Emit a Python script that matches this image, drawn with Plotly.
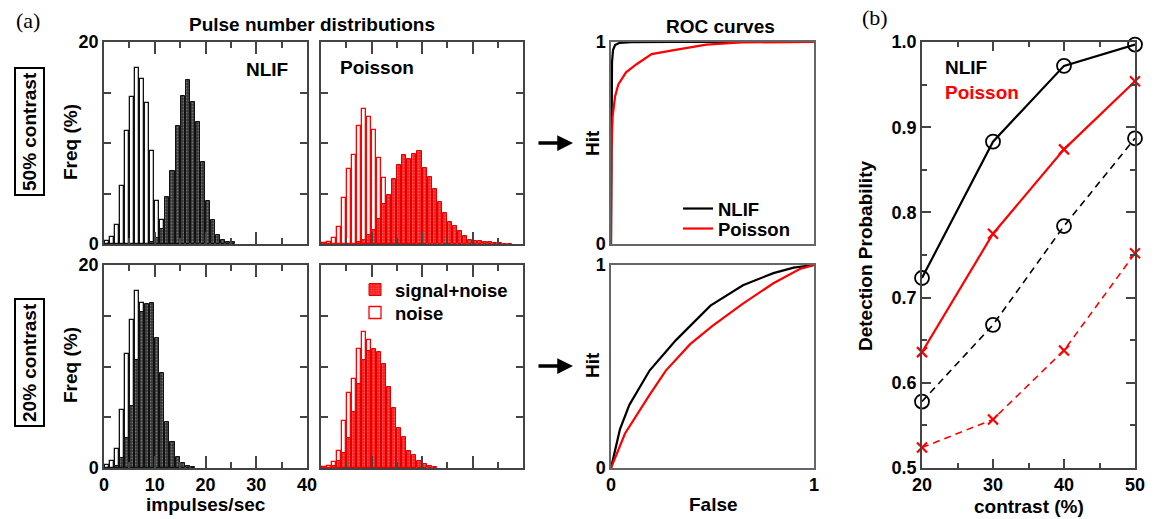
import plotly.graph_objects as go

W, H = 1157, 519
FONT = "Liberation Sans, Arial, Helvetica, sans-serif"
FS = 19

# ---------------- data: pulse-number histograms (percent per 1 imp/s bin) -------------
# bins are 1 impulse/sec wide; *_bins gives the lower edge of each bin
nlif_noise_bins = list(range(0, 15))
nlif_noise = [0.3, 0.65, 1.9, 5.7, 11.2, 14.6, 17.4, 16.3, 14.0, 9.2, 4.3, 2.4, 0.7, 0.3, 0.1]

nlif_sig50_bins = list(range(9, 26))
nlif_sig50 = [0.2, 0.6, 1.5, 4.7, 7.2, 11.7, 14.7, 16.2, 14.1, 12.1, 8.1, 4.3, 2.4, 0.9, 0.35, 0.2, 0.15]

nlif_sig20_bins = list(range(2, 18))
nlif_sig20 = [0.2, 1.0, 3.0, 6.1, 10.6, 15.4, 16.2, 16.3, 12.8, 9.4, 4.5, 2.6, 1.1, 0.45, 0.15, 0.1]

pois_noise_bins = list(range(0, 19))
pois_noise = [0.1, 0.2, 0.6, 1.7, 4.6, 7.4, 8.8, 11.7, 13.4, 12.6, 11.3, 8.5, 6.5, 4.0, 2.5, 1.5, 0.8, 0.4, 0.2]

pois_sig50_bins = list(range(7, 38))
pois_sig50 = [0.2, 0.4, 0.9, 1.4, 2.5, 4.0, 4.9, 6.4, 7.8, 8.8, 8.4, 8.9, 9.2, 7.5, 6.6, 5.4,
              4.2, 3.1, 2.2, 1.8, 1.3, 0.8, 0.4, 0.3, 0.25, 0.2, 0.15, 0.1, 0.1, 0.05, 0.05]

pois_sig20_bins = list(range(2, 23))
pois_sig20 = [0.2, 0.7, 1.5, 3.0, 5.5, 8.3, 10.6, 11.5, 11.7, 11.4, 10.2, 8.0, 5.9, 3.9,
              3.1, 1.7, 1.3, 0.7, 0.4, 0.2, 0.1]

# ---------------- data: ROC curves ----------------
roc50_nlif_false = [0, 0.003, 0.005, 0.01, 0.02, 0.04, 0.1, 0.3, 1.0]
roc50_nlif_hit = [0, 0.5, 0.9, 0.96, 0.985, 0.995, 0.999, 1.0, 1.0]
roc50_pois_false = [0, 0.002, 0.008, 0.02, 0.036, 0.074, 0.126, 0.2, 0.31, 0.47, 0.64, 1.0]
roc50_pois_hit = [0, 0.465, 0.63, 0.73, 0.79, 0.85, 0.89, 0.94, 0.96, 0.987, 0.998, 1.0]

roc20_nlif_false = [0, 0.044, 0.09, 0.19, 0.32, 0.49, 0.65, 0.80, 0.90, 1.0]
roc20_nlif_hit = [0, 0.19, 0.31, 0.48, 0.63, 0.80, 0.90, 0.96, 0.987, 1.0]
roc20_pois_false = [0, 0.069, 0.19, 0.27, 0.39, 0.50, 0.65, 0.80, 0.93, 1.0]
roc20_pois_hit = [0, 0.17, 0.36, 0.48, 0.61, 0.70, 0.81, 0.91, 0.98, 1.0]

# ---------------- data: detection probability vs contrast ----------------
contrast = [20, 30, 40, 50]
det_nlif_solid = [0.723, 0.883, 0.972, 0.997]
det_pois_solid = [0.636, 0.775, 0.874, 0.954]
det_nlif_dash = [0.578, 0.668, 0.784, 0.887]
det_pois_dash = [0.524, 0.557, 0.638, 0.752]


def px(x):
    return x / W


def py(y):
    return 1 - y / H


def centers(bins):
    return [b + 0.5 for b in bins]


fig = go.Figure()

BLACK_SIG = dict(color="#333333", line=dict(color="#111111", width=1),
                 pattern=dict(shape=".", fgcolor="#b0b0b0", bgcolor="#333333", size=3, solidity=0.3))
RED_SIG = dict(color="#ff1a1a", line=dict(color="#e00000", width=1),
               pattern=dict(shape=".", fgcolor="#ff9a9a", bgcolor="#ff1a1a", size=3, solidity=0.3))
BLACK_NOISE = dict(color="white", line=dict(color="#111111", width=1.3))
RED_NOISE = dict(color="white", line=dict(color="#ff0000", width=1.3))

panels = [
    ("x", "y", nlif_noise_bins, nlif_noise, nlif_sig50_bins, nlif_sig50, BLACK_NOISE, BLACK_SIG, False),
    ("x2", "y2", pois_noise_bins, pois_noise, pois_sig50_bins, pois_sig50, RED_NOISE, RED_SIG, False),
    ("x3", "y3", nlif_noise_bins, nlif_noise, nlif_sig20_bins, nlif_sig20, BLACK_NOISE, BLACK_SIG, False),
    ("x4", "y4", pois_noise_bins, pois_noise, pois_sig20_bins, pois_sig20, RED_NOISE, RED_SIG, True),
]
for xa, ya, nb, nv, sb, sv, nm, sm, leg in panels:
    fig.add_trace(go.Bar(x=centers(nb), y=nv, width=0.8, marker=nm, xaxis=xa, yaxis=ya,
                         name="noise", showlegend=leg, legend="legend4"))
    fig.add_trace(go.Bar(x=centers(sb), y=sv, width=0.8, marker=sm, xaxis=xa, yaxis=ya,
                         name="signal+noise", showlegend=leg, legend="legend"))

# ROC curves
for xa, ya, nf, nh, pf, ph, leg in [
    ("x5", "y5", roc50_nlif_false, roc50_nlif_hit, roc50_pois_false, roc50_pois_hit, True),
    ("x6", "y6", roc20_nlif_false, roc20_nlif_hit, roc20_pois_false, roc20_pois_hit, False),
]:
    fig.add_trace(go.Scatter(x=nf, y=nh, mode="lines", line=dict(color="black", width=2.2),
                             xaxis=xa, yaxis=ya, name="NLIF", showlegend=leg, legend="legend2",
                             cliponaxis=False))
    fig.add_trace(go.Scatter(x=pf, y=ph, mode="lines", line=dict(color="#ff0000", width=2.2),
                             xaxis=xa, yaxis=ya, name="Poisson", showlegend=leg, legend="legend3",
                             cliponaxis=False))

# detection probability
circ = dict(symbol="circle-open", size=14, color="black", line=dict(width=1.8, color="black"))
xm = dict(symbol="x-thin", size=10, color="#ff0000", line=dict(width=2.2, color="#ff0000"))
fig.add_trace(go.Scatter(x=contrast, y=det_nlif_solid, mode="lines+markers", marker=circ,
                         line=dict(color="black", width=2.2), xaxis="x7", yaxis="y7",
                         showlegend=False, cliponaxis=False))
fig.add_trace(go.Scatter(x=contrast, y=det_pois_solid, mode="lines+markers", marker=xm,
                         line=dict(color="#ff0000", width=2.2), xaxis="x7", yaxis="y7",
                         showlegend=False, cliponaxis=False))
fig.add_trace(go.Scatter(x=contrast, y=det_nlif_dash, mode="lines+markers", marker=circ,
                         line=dict(color="black", width=1.6, dash="7px,5px"), xaxis="x7", yaxis="y7",
                         showlegend=False, cliponaxis=False))
fig.add_trace(go.Scatter(x=contrast, y=det_pois_dash, mode="lines+markers", marker=xm,
                         line=dict(color="#ff0000", width=1.6, dash="7px,5px"), xaxis="x7", yaxis="y7",
                         showlegend=False, cliponaxis=False))

tickfont = dict(family=FONT, size=18, color="black", weight="bold")
FRAME = "#444444"

cols = {"L": (104, 307), "M": (321, 523), "R": (611, 814), "B": (922, 1135)}
rows = {"T": (42, 244), "D": (265, 468), "ALL": (42, 468)}


def dom_x(c):
    a, b = cols[c]
    return [px(a), px(b)]


def dom_y(r):
    a, b = rows[r]
    return [py(b), py(a)]


def hist_x(c, anchor, labels):
    return dict(domain=dom_x(c), anchor=anchor, range=[0, 40], showgrid=False, zeroline=False,
                showline=True, linecolor=FRAME, linewidth=1.5, mirror="ticks", ticks="inside",
                tickmode="linear", tick0=0, dtick=10, ticklen=12, tickwidth=1.5, tickcolor=FRAME,
                minor=dict(ticks="inside", dtick=5, tick0=0, ticklen=6, tickwidth=1.5, tickcolor=FRAME),
                showticklabels=labels, tickfont=tickfont, automargin=False)


def hist_y(r, anchor, labels):
    return dict(domain=dom_y(r), anchor=anchor, range=[0, 20], showgrid=False, zeroline=False,
                showline=True, linecolor=FRAME, linewidth=1.5, mirror="ticks", ticks="inside",
                tickvals=[0, 5, 10, 15, 20], ticktext=["0", "", "", "", "20"], ticklen=7,
                tickwidth=1.5, tickcolor=FRAME, showticklabels=labels, tickfont=tickfont,
                automargin=False)


def roc_x(r, anchor, labels):
    return dict(domain=dom_x("R"), anchor=anchor, range=[0, 1], showgrid=False, zeroline=False,
                showline=True, linecolor="#666666", linewidth=1.5, mirror=True, ticks="",
                tickvals=[0, 1], showticklabels=labels, tickfont=tickfont, automargin=False)


def roc_y(r, anchor):
    return dict(domain=dom_y(r), anchor=anchor, range=[0, 1], showgrid=False, zeroline=False,
                showline=True, linecolor="#666666", linewidth=1.5, mirror=True, ticks="",
                tickvals=[0, 1], showticklabels=True, tickfont=tickfont, automargin=False)


legfont = dict(family=FONT, size=18.5, color="black", weight="bold")


def leg(x, y):
    return dict(x=px(x), y=py(y), xanchor="left", yanchor="middle", bgcolor="rgba(0,0,0,0)",
                font=legfont, itemwidth=30, borderwidth=0)


fig.update_layout(
    width=W, height=H, autosize=False,
    margin=dict(l=0, r=0, t=0, b=0, pad=0, autoexpand=False),
    paper_bgcolor="white", plot_bgcolor="white",
    barmode="overlay", bargap=0,
    xaxis=hist_x("L", "y", False), yaxis=hist_y("T", "x", True),
    xaxis2=hist_x("M", "y2", False), yaxis2=hist_y("T", "x2", False),
    xaxis3=hist_x("L", "y3", True), yaxis3=hist_y("D", "x3", True),
    xaxis4=hist_x("M", "y4", False), yaxis4=hist_y("D", "x4", False),
    xaxis5=roc_x("T", "y5", False), yaxis5=roc_y("T", "x5"),
    xaxis6=roc_x("D", "y6", True), yaxis6=roc_y("D", "x6"),
    xaxis7=dict(domain=dom_x("B"), anchor="y7", range=[20, 50], showgrid=False, zeroline=False,
                showline=True, linecolor=FRAME, linewidth=1.5, mirror="ticks", ticks="inside",
                tickmode="linear", tick0=20, dtick=10, ticklen=9, tickwidth=1.5, tickcolor=FRAME,
                minor=dict(ticks="inside", dtick=5, tick0=20, ticklen=5, tickwidth=1.5, tickcolor=FRAME),
                tickfont=tickfont, automargin=False),
    yaxis7=dict(domain=dom_y("ALL"), anchor="x7", range=[0.5, 1.0], showgrid=False, zeroline=False,
                showline=True, linecolor=FRAME, linewidth=1.5, mirror="ticks", ticks="inside",
                tickmode="linear", tick0=0.5, dtick=0.1, tickformat=".1f", ticklen=9, tickwidth=1.5,
                tickcolor=FRAME,
                minor=dict(ticks="inside", dtick=0.05, tick0=0.5, ticklen=5, tickwidth=1.5, tickcolor=FRAME),
                tickfont=tickfont, automargin=False),
    legend=leg(355, 290),
    legend4=leg(355, 313),
    legend2=leg(678, 209),
    legend3=leg(678, 229),
)

bold = dict(family=FONT, size=FS, color="black", weight="bold")


def label(text, x, y, angle=0, font=None, xanchor="center", yanchor="middle", **kw):
    fig.add_annotation(text=text, x=px(x), y=py(y), xref="paper", yref="paper", showarrow=False,
                       textangle=angle, font=font or bold, xanchor=xanchor, yanchor=yanchor, **kw)


serif = dict(family="Liberation Serif, Times New Roman, serif", size=22, color="black")
label("(a)", 28, 20, font=serif)
label("(b)", 875, 18, font=serif)
label("Pulse number distributions", 312, 25)
label("ROC curves", 720, 26)
label("NLIF", 267, 69)
label("Poisson", 377, 67)
label("Freq (%)", 70, 142, angle=-90)
label("Freq (%)", 70, 365, angle=-90)
label("50% contrast", 29, 132, angle=-90, bordercolor="black", borderwidth=2, borderpad=3)
label("20% contrast", 29, 363, angle=-90, bordercolor="black", borderwidth=2, borderpad=3)
label("impulses/sec", 206, 504)
label("Hit", 592, 143, angle=-90)
label("Hit", 592, 365, angle=-90)
label("False", 713, 504)
label("Detection Probability", 865, 256, angle=-90)
label("contrast (%)", 1029, 506)
label("NLIF", 943, 67, xanchor="left")
label("Poisson", 943, 92, xanchor="left", font=dict(family=FONT, size=FS, color="#ff0000", weight="bold"))

for yy in (143, 366):
    fig.add_annotation(x=px(573), y=py(yy), xref="paper", yref="paper", text="", showarrow=True,
                       ax=-36, ay=0, arrowhead=2, arrowsize=0.9, arrowwidth=3.5, arrowcolor="black",
                       standoff=0)

fig.write_html("out.html")
